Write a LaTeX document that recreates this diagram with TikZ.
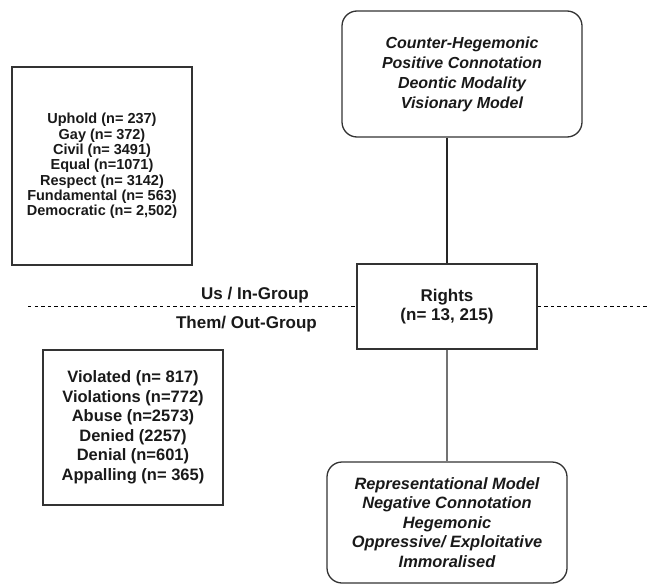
\documentclass[tikz,border=0pt]{standalone}
\usepackage{fontspec}
\setmainfont{Liberation Sans}
\begin{document}
\begin{tikzpicture}[x=1pt,y=-1pt,
  txt/.style 2 args={align=center, text=black!90, font=\bfseries\fontsize{#1}{#2}\selectfont},
  itxt/.style 2 args={align=center, text=black!90, font=\bfseries\itshape\fontsize{#1}{#2}\selectfont},
  sqbox/.style={draw=black!80, line width=1.3pt, inner sep=0pt},
  rbox/.style={draw=black!80, line width=1.3pt, rounded corners=15pt, inner sep=0pt},
  link/.style={line width=1.3pt},
  grp/.style={dash pattern=on 3.3pt off 3.3pt, line width=0.9pt}]
\useasboundingbox (0,0) rectangle (650,586);

% word lists
\node[sqbox, txt={14.5}{15.3}, minimum width=180pt, minimum height=198pt] (pos) at (102,166)
  {Uphold (n= 237)\\Gay (n= 372)\\Civil (n= 3491)\\Equal (n=1071)\\Respect (n= 3142)\\Fundamental (n= 563)\\Democratic (n= 2,502)};
\node[sqbox, txt={16.5}{19.5}, minimum width=180pt, minimum height=155pt] (neg) at (133,427.5)
  {Violated (n= 817)\\Violations (n=772)\\Abuse (n=2573)\\Denied (2257)\\Denial (n=601)\\Appalling (n= 365)};

% central term and its two readings
\node[sqbox, txt={17}{19.5}, minimum width=180pt, minimum height=85pt] (rights) at (447,306.5)
  {Rights\\(n= 13, 215)};
\node[rbox, itxt={16}{20}, minimum width=240pt, minimum height=126pt] (upper) at (462,74)
  {Counter-Hegemonic\\Positive Connotation\\Deontic Modality\\Visionary Model};
\node[rbox, itxt={16.4}{19.5}, minimum width=240pt, minimum height=121pt] (lower) at (447,522.5)
  {Representational Model\\Negative Connotation\\Hegemonic\\Oppressive/ Exploitative\\Immoralised};

\draw[link, black!85] (upper.south -| rights.north) -- (rights.north);
\draw[link, black!55] (rights.south) -- (lower.north);

% group divider
\coordinate (dl) at (28,306.5);
\coordinate (dr) at (650,306.5);
\draw[grp] (dl) -- (rights.west);
\draw[grp] (rights.east) -- (dr);
\node[txt={17}{20}, anchor=base east, inner sep=0pt] (us) at (309,299) {Us / In-Group};
\node[txt={17}{20}, anchor=base east, inner sep=0pt] (them) at (317,328) {Them/ Out-Group};
\end{tikzpicture}
\end{document}
